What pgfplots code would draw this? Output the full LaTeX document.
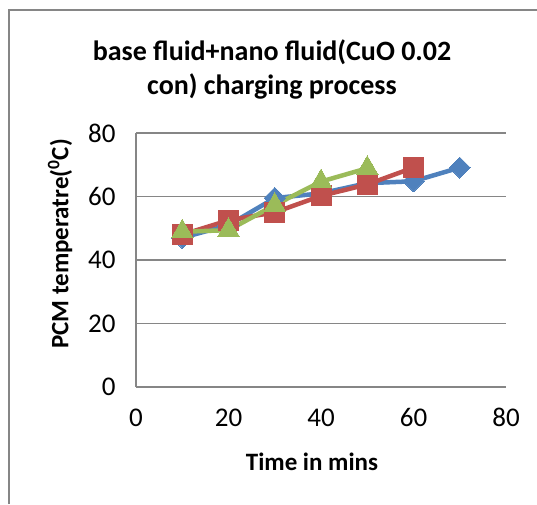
\documentclass[border=0pt]{standalone}
\usepackage{pgfplots}
\pgfplotsset{compat=1.18}
\usepackage{fontspec}
\setmainfont{Carlito}
\definecolor{xblue}{HTML}{4F81BD}
\definecolor{xred}{HTML}{C0504D}
\definecolor{xgreen}{HTML}{9BBB59}
\definecolor{xgrid}{HTML}{868686}
\begin{document}
\begin{tikzpicture}[x=1pt,y=1pt]
\path[use as bounding box] (0,0) rectangle (537,504);
\draw[xgrid,line width=1.5pt] (9,0) -- (9,494) -- (537,494);
\begin{axis}[
  at={(136pt,117pt)}, anchor=south west,
  scale only axis, width=370pt, height=254pt,
  xmin=0, xmax=80, ymin=0, ymax=80,
  xtick={0,20,40,60,80}, ytick={0,20,40,60,80},
  axis x line*=bottom, axis y line*=left,
  axis line style={xgrid,line width=1.5pt,-},
  ymajorgrids, grid style={xgrid,line width=1.5pt},
  major tick length=0pt,
  /pgf/number format/assume math mode=true,
  ticklabel style={font=\fontsize{27}{32}\selectfont},
  xticklabel style={yshift=-18pt},
  yticklabel style={xshift=-17pt},
  clip=false,
]
\addplot[xblue, line width=4.5pt, mark=square*, mark size=7.5pt, mark options={rotate=45, line width=0pt, fill=xblue}]
 coordinates {(10,47) (20,51) (30,59.5) (40,61) (50,64.2) (60,64.8) (70,69.1)};
\addplot[xred, line width=4.5pt, mark=square*, mark size=10pt, mark options={line width=0pt, fill=xred}]
 coordinates {(10,48) (20,52.5) (30,55) (40,60.2) (50,63.8) (60,69.1)};
\addplot[xgreen, line width=4.5pt, mark=triangle*, mark size=12.5pt, mark options={line width=0pt, fill=xgreen}]
 coordinates {(10,48.9) (20,49.4) (30,57.3) (40,64.7) (50,68.9)};
\end{axis}
\node[font=\bfseries\fontsize{28}{34}\selectfont, align=center, anchor=center] at (272,435) {base fluid+nano fluid(CuO 0.02\\con) charging process};
\node[font=\bfseries\fontsize{25}{30}\selectfont, anchor=base] at (312,34) {Time in mins};
\node[font=\bfseries\fontsize{25}{30}\selectfont, rotate=90, anchor=center] at (60,260) {PCM temperatre(\textsuperscript{0}C)};
\end{tikzpicture}
\end{document}
